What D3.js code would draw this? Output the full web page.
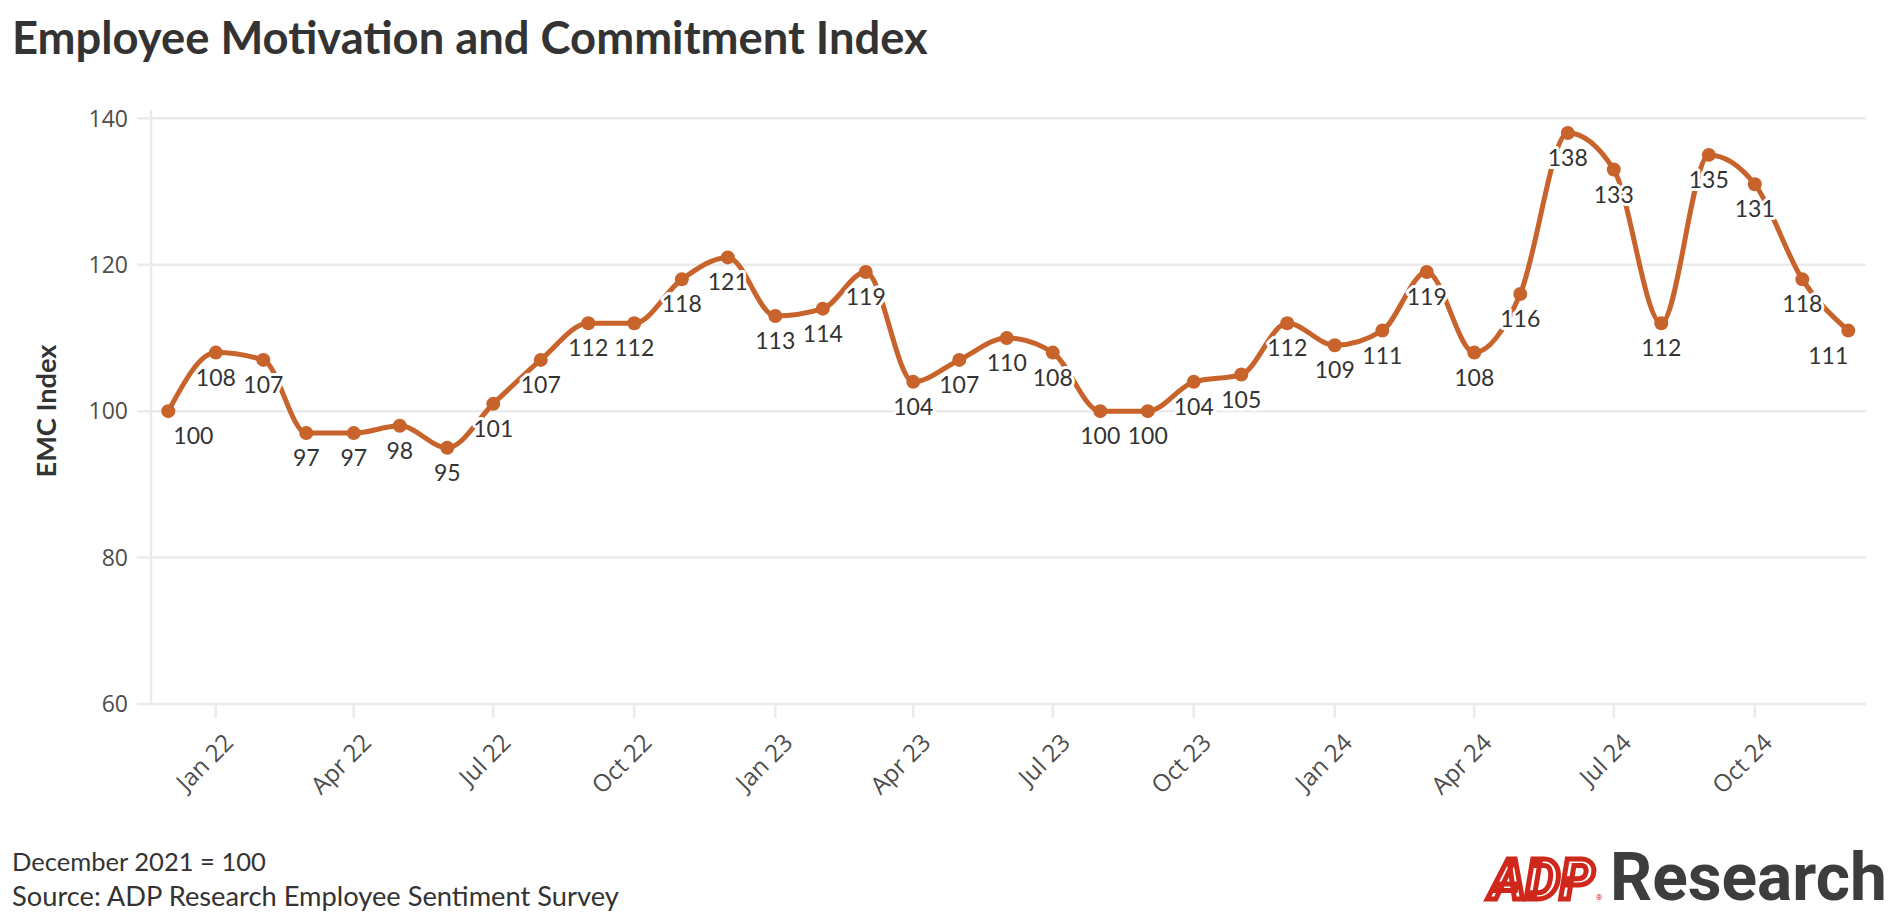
<!DOCTYPE html>
<html>
<head>
<meta charset="utf-8">
<script src="https://cdn.jsdelivr.net/npm/d3@7"></script>
<style>
  html, body { margin: 0; padding: 0; background: #fff; }
  svg { display: block; }
</style>
</head>
<body>
<svg id="chart" width="1897" height="918"></svg>
<script>
// ---------------- DATA ----------------
const months = [
  "2021-12","2022-01","2022-02","2022-03","2022-04","2022-05","2022-06","2022-07","2022-08","2022-09","2022-10","2022-11","2022-12",
  "2023-01","2023-02","2023-03","2023-04","2023-05","2023-06","2023-07","2023-08","2023-09","2023-10","2023-11","2023-12",
  "2024-01","2024-02","2024-03","2024-04","2024-05","2024-06","2024-07","2024-08","2024-09","2024-10","2024-11","2024-12"
];
const emcIndex = [
  100,108,107,97,97,98,95,101,107,112,112,118,121,
  113,114,119,104,107,110,108,100,100,104,105,112,
  109,111,119,108,116,138,133,112,135,131,118,111
];
const yTicks = [60, 80, 100, 120, 140];
const titleText = "Employee Motivation and Commitment Index";
const yAxisTitle = "EMC Index";
const footerLines = ["December 2021 = 100", "Source: ADP Research Employee Sentiment Survey"];

// ---------------- LAYOUT ----------------
const svg = d3.select("#chart");
const plot = { left: 151, right: 1866, top: 110, bottom: 704 };
const parse = d3.timeParse("%Y-%m");
const data = months.map((m, i) => ({ date: parse(m), value: emcIndex[i] }));

const x = d3.scaleTime()
  .domain([data[0].date, data[data.length - 1].date])
  .range([168.3, 1848.3]);
const y = d3.scaleLinear().domain([60, 140]).range([704, 118.3]);

const gridColor = "#ebebeb";
const lineColor = "#c8632b";

function fitText(sel, target) {
  const len = sel.node().getComputedTextLength();
  const fs = parseFloat(sel.attr("font-size"));
  sel.attr("font-size", (fs * target / len).toFixed(2));
}

// Title
const title = svg.append("text")
  .attr("x", 12).attr("y", 54)
  .attr("font-family", "Lato, 'Open Sans', sans-serif")
  .attr("font-weight", 700)
  .attr("font-size", 40)
  .attr("fill", "#333")
  .text(titleText);
fitText(title, 916);

// Gridlines + y ticks
const gy = svg.append("g");
gy.selectAll("line.grid").data(yTicks).join("line")
  .attr("x1", 137).attr("x2", plot.right)
  .attr("y1", d => y(d)).attr("y2", d => y(d))
  .attr("stroke", gridColor).attr("stroke-width", 2.5);
gy.selectAll("text").data(yTicks).join("text")
  .attr("x", 128).attr("y", d => y(d))
  .attr("dy", "0.36em")
  .attr("text-anchor", "end")
  .attr("font-family", "'Open Sans', sans-serif")
  .attr("font-size", 23)
  .attr("fill", "#4d4d4d")
  .text(d => d);

// Vertical axis line
svg.append("line")
  .attr("x1", plot.left).attr("x2", plot.left)
  .attr("y1", plot.top).attr("y2", plot.bottom)
  .attr("stroke", gridColor).attr("stroke-width", 2.5);

// X ticks
const xTicks = x.ticks(d3.timeMonth.filter(d => d.getMonth() % 3 === 0));
const fmt = d3.timeFormat("%b %y");
const gx = svg.append("g");
gx.selectAll("line").data(xTicks).join("line")
  .attr("x1", d => x(d)).attr("x2", d => x(d))
  .attr("y1", plot.bottom).attr("y2", plot.bottom + 14)
  .attr("stroke", gridColor).attr("stroke-width", 2.5);
gx.selectAll("text").data(xTicks).join("text")
  .attr("transform", d => `translate(${x(d) + 19},${744}) rotate(-45)`)
  .attr("text-anchor", "end")
  .attr("font-family", "'Open Sans', sans-serif")
  .attr("font-size", 24)
  .attr("fill", "#4d4d4d")
  .text(d => fmt(d));

// Y axis title
const yt = svg.append("text")
  .attr("transform", `translate(${56},${411}) rotate(-90)`)
  .attr("text-anchor", "middle")
  .attr("font-family", "Lato, sans-serif")
  .attr("font-weight", 700)
  .attr("font-size", 24)
  .attr("fill", "#333")
  .text(yAxisTitle);
fitText(yt, 133);

// Line
const line = d3.line()
  .x(d => x(d.date)).y(d => y(d.value))
  .curve(d3.curveMonotoneX);
svg.append("path")
  .datum(data)
  .attr("d", line)
  .attr("fill", "none")
  .attr("stroke", lineColor)
  .attr("stroke-width", 5)
  .attr("stroke-linejoin", "round");

// Markers
svg.append("g").selectAll("circle").data(data).join("circle")
  .attr("cx", d => x(d.date)).attr("cy", d => y(d.value))
  .attr("r", 7)
  .attr("fill", lineColor);

// Value labels
const last = data.length - 1;
svg.append("g").selectAll("text").data(data).join("text")
  .attr("x", (d, i) => x(d.date) + (i === 0 ? 5 : 0))
  .attr("y", d => y(d.value) + 33)
  .attr("text-anchor", (d, i) => i === 0 ? "start" : (i === last ? "end" : "middle"))
  .attr("font-family", "Lato, sans-serif")
  .attr("font-size", 23)
  .attr("fill", "#333")
  .attr("stroke", "#fff")
  .attr("stroke-width", 6)
  .attr("stroke-linejoin", "round")
  .attr("paint-order", "stroke")
  .text(d => d.value);

// Footer
const foot = svg.append("g")
  .attr("font-family", "Lato, sans-serif")
  .attr("fill", "#333");
const f1 = foot.append("text").attr("x", 12).attr("y", 871).attr("font-size", 24).text(footerLines[0]);
const f2 = foot.append("text").attr("x", 12).attr("y", 906).attr("font-size", 24).text(footerLines[1]);
fitText(f2, 607);
fitText(f1, 254);

// Logo
const adp = svg.append("text")
  .attr("x", 1490).attr("y", 899)
  .attr("font-family", "Roboto, sans-serif")
  .attr("font-weight", 700)
  .attr("font-style", "italic")
  .attr("font-size", 66)
  .attr("fill", "#fff")
  .attr("stroke", "#d0271d")
  .attr("stroke-width", 5)
  .attr("stroke-linejoin", "miter")
  .text("ADP");
fitText(adp, 104);
svg.append("text")
  .attr("x", 1596).attr("y", 900)
  .attr("font-family", "Roboto, sans-serif")
  .attr("font-size", 8)
  .attr("fill", "#d0271d")
  .text("®");
const res = svg.append("text")
  .attr("x", 1610).attr("y", 900)
  .attr("font-family", "Roboto, sans-serif")
  .attr("font-weight", 700)
  .attr("font-size", 68)
  .attr("fill", "#3d3d3d")
  .text("Research");
fitText(res, 277);
</script>
</body>
</html>
